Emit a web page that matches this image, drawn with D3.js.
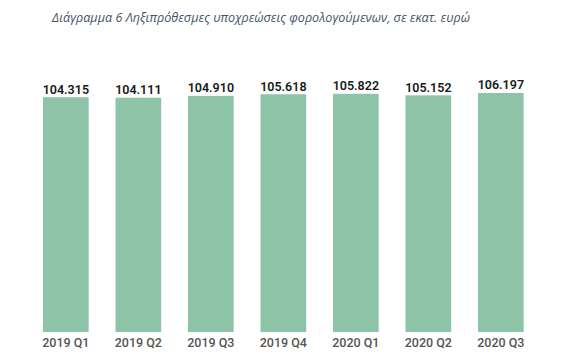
<!DOCTYPE html>
<html>
<head>
<meta charset="utf-8">
<script src="https://cdn.jsdelivr.net/npm/d3@7"></script>
<style>
body { margin: 0; background: #fff; }
</style>
</head>
<body>
<div id="chart"></div>
<script>
var width = 576, height = 364;

var title = "Διάγραμμα 6 Ληξιπρόθεσμες υποχρεώσεις φορολογούμενων, σε εκατ. ευρώ";
var quarters = ["2019 Q1", "2019 Q2", "2019 Q3", "2019 Q4", "2020 Q1", "2020 Q2", "2020 Q3"];
var values = [104.315, 104.111, 104.910, 105.618, 105.822, 105.152, 106.197];
var valueLabels = ["104.315", "104.111", "104.910", "105.618", "105.822", "105.152", "106.197"];

var svg = d3.select("#chart").append("svg")
    .attr("width", width)
    .attr("height", height);

// title
svg.append("text")
    .attr("x", 261)
    .attr("y", 22)
    .attr("text-anchor", "middle")
    .style("font-family", "'Open Sans', sans-serif")
    .style("font-style", "italic")
    .style("font-size", "12.6px")
    .style("fill", "#44546a")
    .text(title);

var x = d3.scaleBand()
    .domain(quarters)
    .range([29.6, 537.1])
    .paddingInner(0.37)
    .paddingOuter(0.185);

var y = d3.scaleLinear()
    .domain([0, 110])
    .range([332, 332 - 110 * 2.2506]);

svg.append("g")
    .selectAll("rect")
    .data(values)
    .enter().append("rect")
    .attr("x", function(d, i) { return x(quarters[i]); })
    .attr("y", function(d) { return y(d); })
    .attr("width", x.bandwidth())
    .attr("height", function(d) { return y(0) - y(d); })
    .attr("fill", "#8dc3a7");

// value labels
svg.append("g")
    .selectAll("text")
    .data(values)
    .enter().append("text")
    .attr("x", function(d, i) { return x(quarters[i]) + x.bandwidth() / 2; })
    .attr("y", function(d) { return y(d) - 3.5; })
    .attr("text-anchor", "middle")
    .style("font-family", "Roboto, sans-serif")
    .style("font-weight", "600")
    .style("font-size", "12.5px")
    .style("fill", "#1a1a1a")
    .text(function(d, i) { return valueLabels[i]; });

// category axis
var xAxis = svg.append("g")
    .attr("transform", "translate(0,332)")
    .call(d3.axisBottom(x).tickSize(0).tickPadding(6.5));
xAxis.select(".domain").remove();
xAxis.selectAll("text")
    .style("font-family", "Roboto, sans-serif")
    .style("font-weight", "500")
    .style("font-size", "12.5px")
    .style("fill", "#555");
</script>
</body>
</html>
